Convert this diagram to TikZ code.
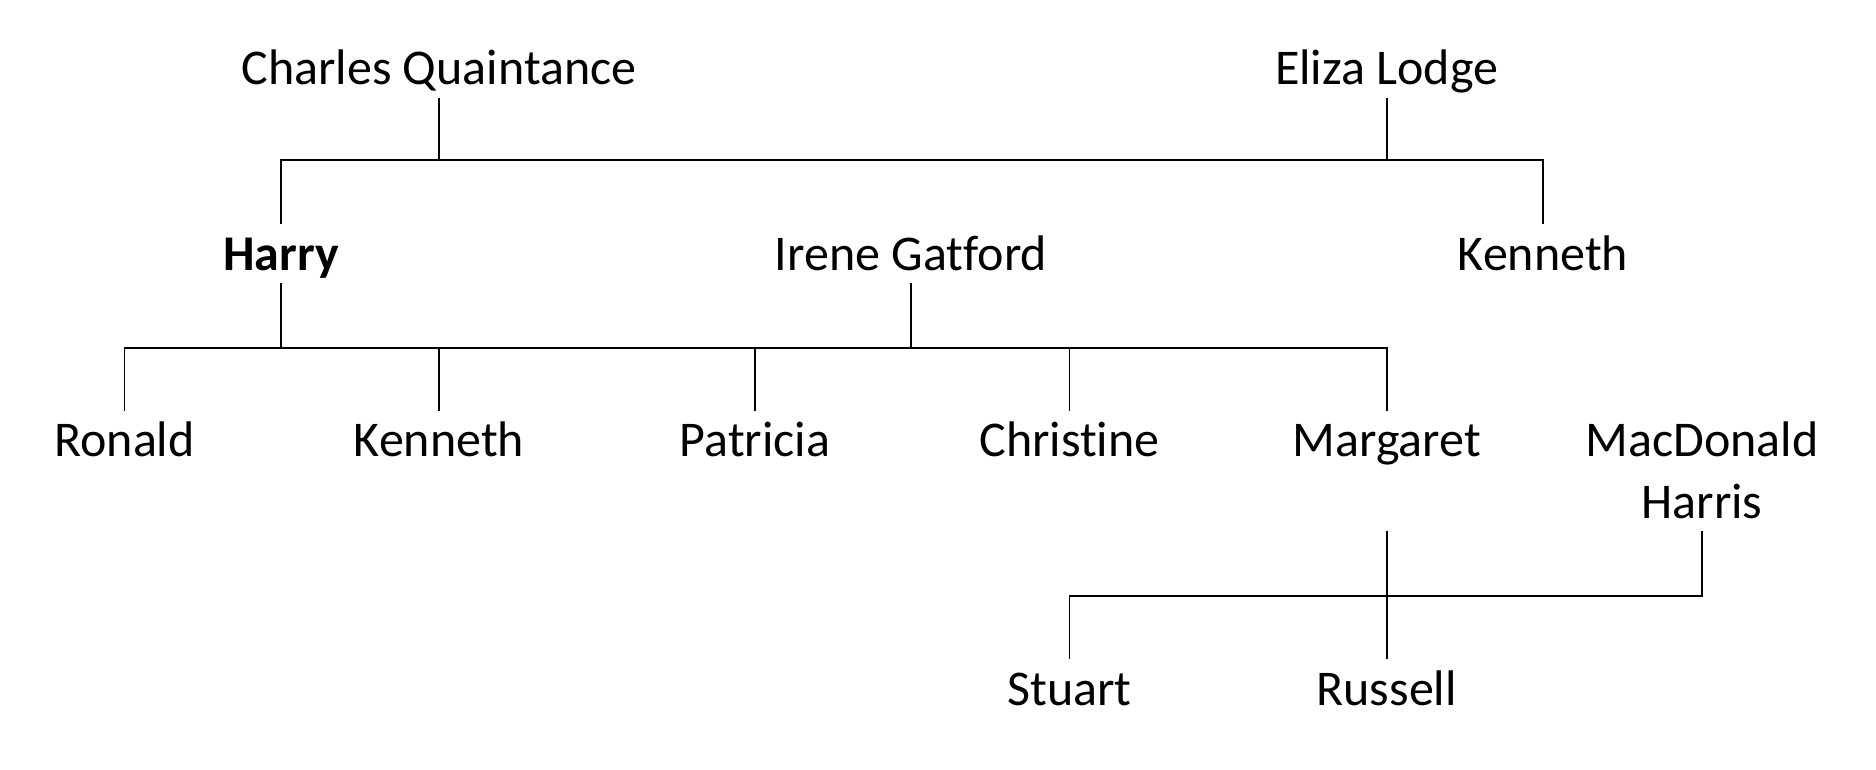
\documentclass[tikz,border=0pt]{standalone}
\usepackage{fontspec}
\setmainfont[Ligatures=NoCommon]{Carlito}
\begin{document}
\begin{tikzpicture}[x=1pt,y=-1pt,
  person/.style={inner sep=0pt, outer sep=0pt, anchor=base, text height=47pt, text depth=14pt,
    font=\fontsize{50}{61.7}\selectfont},
  link/.style={line width=1.8pt, line cap=rect}]
\useasboundingbox (0,0) rectangle (1876,770);
% generation 1
\node[person] (charles) at (439,85) {Charles Quaintance};
\node[person] (eliza) at (1386.7,85) {Eliza Lodge};
% generation 2
\node[person, font=\fontsize{50}{61.7}\selectfont\bfseries] (harry) at (281,270) {Harry};
\node[person] (irene) at (911,270) {Irene Gatford};
\node[person] (kenA) at (1543,270) {Kenneth};
% generation 3
\node[person] (ronald) at (124.5,456.7) {Ronald};
\node[person] (kenB) at (439,456.7) {Kenneth};
\node[person] (patricia) at (755,456.7) {Patricia};
\node[person] (christine) at (1069.5,456.7) {Christine};
\node[person] (margaret) at (1386.7,456.7) {Margaret};
\node[person, align=center, anchor=south] (macd) at (1702,532.3) {MacDonald\\Harris};
% generation 4
\node[person] (stuart) at (1069.5,705) {Stuart};
\node[person] (russell) at (1386.7,705) {Russell};
% bar levels
\coordinate (m1) at (0,160);
\coordinate (m2) at (0,347.7);
\coordinate (m3) at (0,595.7);
% connectors
\draw[link] (charles.south) -- (charles.south |- m1);
\draw[link] (eliza.south) -- (eliza.south |- m1);
\draw[link] (harry.north) -- (harry.north |- m1) -- (kenA.north |- m1) -- (kenA.north);
\draw[link] (harry.south) -- (harry.south |- m2);
\draw[link] (irene.south) -- (irene.south |- m2);
\draw[link] (ronald.north) -- (ronald.north |- m2) -- (margaret.north |- m2) -- (margaret.north);
\draw[link] (kenB.north) -- (kenB.north |- m2);
\draw[link] (patricia.north) -- (patricia.north |- m2);
\draw[link] (christine.north) -- (christine.north |- m2);
\draw[link] (margaret.south |- macd.south) -- (russell.north);
\draw[link] (macd.south) -- (macd.south |- m3) -- (stuart.north |- m3) -- (stuart.north);
\end{tikzpicture}
\end{document}
